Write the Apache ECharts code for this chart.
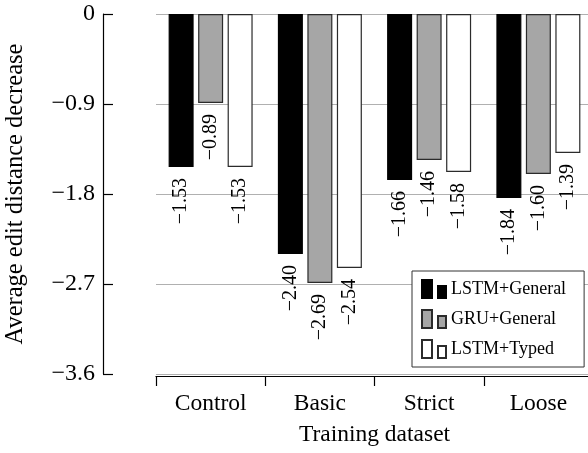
<!DOCTYPE html>
<html>
<head>
<meta charset="utf-8">
<script src="https://cdn.jsdelivr.net/npm/echarts@6/dist/echarts.min.js"></script>
<style>
  html, body { margin: 0; padding: 0; background: #fff; }
  #chart { width: 588px; height: 453px; }
</style>
</head>
<body>
<div id="chart"></div>
<script>
// data
const categories = ['Control', 'Basic', 'Strict', 'Loose'];
const seriesNames = ['LSTM+General', 'GRU+General', 'LSTM+Typed'];
const lstmGeneral = [-1.53, -2.40, -1.66, -1.84];
const gruGeneral = [-0.89, -2.69, -1.46, -1.60];
const lstmTyped = [-1.53, -2.54, -1.58, -1.39];

const FONT = '"Liberation Serif", "Times New Roman", serif';
// two little bars, like the pgfplots ybar legend
const legendIcon = 'path://M0,0L10,0L10,18L0,18Z M16,6L24,6L24,18L16,18Z';

function minus(v, digits) {
  if (v === 0) return '0';
  return (v < 0 ? '\u2212' : '') + Math.abs(v).toFixed(digits);
}

function makeSeries(name, data, fill, border) {
  return {
    name: name,
    type: 'bar',
    data: data,
    barWidth: 25,
    barGap: '18%',
    animation: false,
    itemStyle: { color: fill, borderColor: border, borderWidth: 1.2 },
    label: {
      show: true,
      position: 'bottom',
      distance: 11,
      rotate: 90,
      align: 'right',
      verticalAlign: 'middle',
      fontFamily: FONT,
      fontSize: 20,
      color: '#000',
      formatter: p => minus(p.value, 2)
    }
  };
}

const chart = echarts.init(document.getElementById('chart'), null, { renderer: 'canvas' });

chart.setOption({
  backgroundColor: '#fff',
  textStyle: { fontFamily: FONT, color: '#000' },
  grid: { left: 156, top: 14, width: 437, bottom: 79, containLabel: false, outerBoundsMode: 'none' },
  legend: {
    left: 412,
    top: 271,
    orient: 'vertical',
    data: seriesNames,
    icon: legendIcon,
    itemWidth: 24,
    itemHeight: 18,
    itemGap: 10,
    padding: [8, 18, 8, 9],
    borderColor: '#333',
    borderWidth: 1,
    backgroundColor: '#fff',
    selectedMode: false,
    textStyle: { fontFamily: FONT, fontSize: 18, color: '#000' }
  },
  xAxis: {
    type: 'category',
    data: categories,
    offset: 2,
    name: 'Training dataset',
    nameLocation: 'middle',
    nameGap: 47,
    nameTextStyle: { fontFamily: FONT, fontSize: 23.5, color: '#000' },
    axisLine: { onZero: false, lineStyle: { color: '#000', width: 1.2 } },
    axisTick: { show: true, length: 10, lineStyle: { color: '#000', width: 1.2 } },
    axisLabel: { margin: 16, fontFamily: FONT, fontSize: 23.5, color: '#000' },
    splitLine: { show: false }
  },
  yAxis: {
    type: 'value',
    min: -3.6,
    max: 0,
    interval: 0.9,
    offset: 53,
    name: 'Average edit distance decrease',
    nameLocation: 'middle',
    nameGap: 75,
    nameTextStyle: { fontFamily: FONT, fontSize: 24.5, color: '#000' },
    axisLine: { show: true, onZero: false, lineStyle: { color: '#000', width: 1.2 } },
    axisTick: { show: true, inside: true, length: 10, lineStyle: { color: '#000', width: 1.2 } },
    axisLabel: {
      margin: 8,
      fontFamily: FONT,
      fontSize: 24,
      color: '#000',
      formatter: v => minus(v, 1)
    },
    splitLine: { show: true, lineStyle: { color: '#b0b0b0', width: 1 } }
  },
  series: [
    makeSeries(seriesNames[0], lstmGeneral, '#000', '#000'),
    makeSeries(seriesNames[1], gruGeneral, '#a6a6a6', '#2b2b2b'),
    makeSeries(seriesNames[2], lstmTyped, '#fff', '#2b2b2b')
  ]
});
</script>
</body>
</html>
